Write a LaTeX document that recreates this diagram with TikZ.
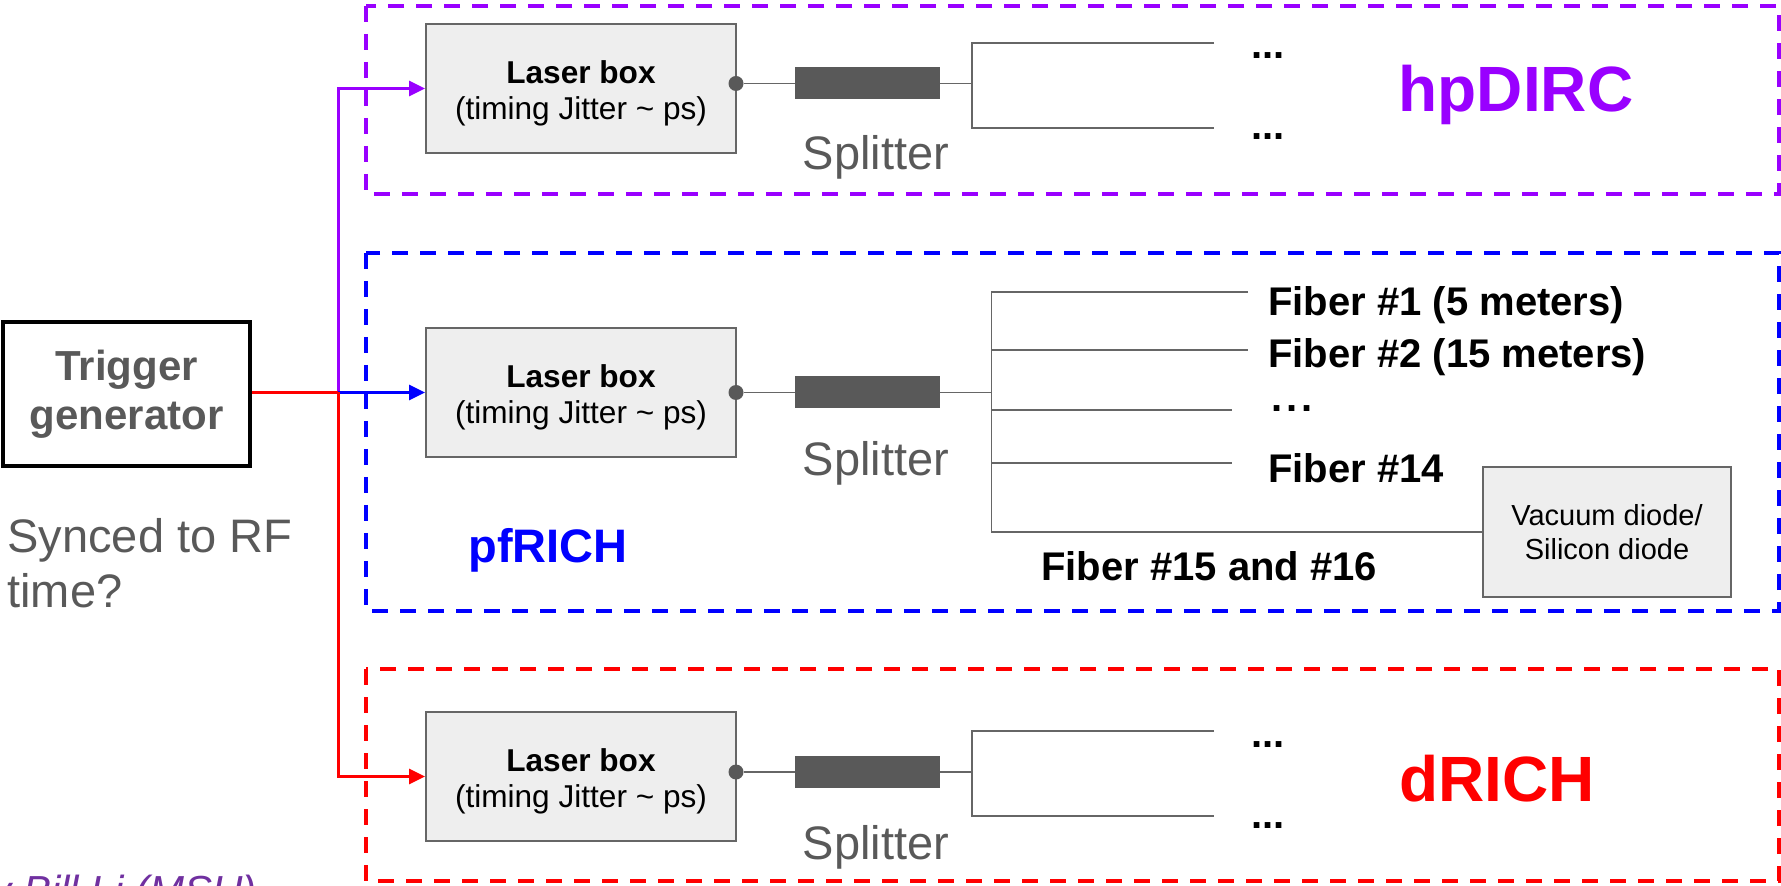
\documentclass[tikz,border=0pt]{standalone}
\usepackage{fontspec}
\setmainfont{Liberation Sans}
\usetikzlibrary{arrows.meta}
\definecolor{vio}{HTML}{9900FF}
\definecolor{blu}{HTML}{0000FF}
\definecolor{rd}{HTML}{FF0000}
\definecolor{dg}{HTML}{595959}
\definecolor{lg}{HTML}{666666}
\definecolor{boxfill}{HTML}{EEEEEE}
\definecolor{credit}{HTML}{7030A0}
\begin{document}
\begin{tikzpicture}[x=0.5pt,y=-0.5pt,
  zone/.style={line width=2pt, dash pattern=on 8pt off 6pt},
  laser/.style={draw=lg, fill=boxfill, line width=1pt, minimum width=155pt, minimum height=64.5pt, inner sep=0pt, align=center, font=\fontsize{15.8}{18}\selectfont},
  sig/.style={line width=1.5pt, -{Triangle[length=8pt,width=7.5pt]}},
  gline/.style={draw=lg, line width=0.9pt},
  dotn/.style={circle, fill=dg, inner sep=0pt, minimum size=7.5pt},
  splitbar/.style={fill=dg, inner sep=0pt, minimum width=72.5pt, minimum height=16pt},
  splitlbl/.style={text=dg, inner sep=0pt, anchor=base, font=\fontsize{23.5}{28}\selectfont},
  fib/.style={inner sep=0pt, anchor=base west, font=\fontsize{20}{24}\selectfont\bfseries},
  trig/.style={draw=black, line width=1.7pt, minimum width=123.5pt, minimum height=72pt, inner sep=0pt, align=center, text=dg, font=\fontsize{21}{24.5}\selectfont\bfseries},
  note/.style={inner sep=0pt, anchor=base west, text=dg, font=\fontsize{23.5}{28}\selectfont},
  diode/.style={draw=lg, fill=boxfill, line width=1pt, minimum width=124pt, minimum height=65pt, inner sep=0pt, align=center, font=\fontsize{14.5}{17}\selectfont},
  det/.style={inner sep=0pt, font=\fontsize{32}{38}\selectfont\bfseries}
]
\useasboundingbox (0,0) rectangle (1781,886);
\clip (0,0) rectangle (1781,886);

% detector zones
\draw[zone, vio] (366,6) rectangle (1779,194);
\draw[zone, blu] (366,253) rectangle (1779,611);
\draw[zone, rd] (366,669) rectangle (1779,881);

% trigger generator
\node[trig] (trig) at (126.5,394) {Trigger\\generator};
\node[note] (sync1) at (7,553) {Synced to RF};
\node[note] (sync2) at (7,608) {time?};

% laser boxes
\node[laser] (L1) at (581,88.5) {\rule{0pt}{15.8pt}\textbf{Laser box}\\(timing Jitter \textasciitilde{} ps)};
\node[laser] (L2) at (581,392.5) {\rule{0pt}{15.8pt}\textbf{Laser box}\\(timing Jitter \textasciitilde{} ps)};
\node[laser] (L3) at (581,776.5) {\rule{0pt}{15.8pt}\textbf{Laser box}\\(timing Jitter \textasciitilde{} ps)};

% trigger distribution
\coordinate (J) at (338,392.5);
\draw[sig, vio] (J) |- (L1.west);
\draw[sig, blu] (J) -- (L2.west);
\draw[sig, rd] (J) |- (L3.west);
\draw[rd, line width=1.5pt] (trig.east |- J) -- (J);

% output dots and splitters
\node[dotn] (c1) at (736,83.5) {};
\node[dotn] (c2) at (736,392.5) {};
\node[dotn] (c3) at (736,772) {};
\node[splitbar] (s1) at (867.5,83.5) {};
\node[splitbar] (s2) at (867.5,392.5) {};
\node[splitbar] (s3) at (867.5,772) {};
\draw[gline] (c1) -- (s1.west);
\draw[gline] (c2) -- (s2.west);
\draw[gline] (c3) -- (s3.west);
\node[splitlbl] (t1) at (876,170) {Splitter};
\node[splitlbl] (t2) at (876,476) {Splitter};
\node[splitlbl] (t3) at (876,859) {Splitter};

% hpDIRC branches
\coordinate (k1) at (972,83.5);
\coordinate (k1a) at (972,43);
\coordinate (k1b) at (972,128);
\coordinate (e1a) at (1214,43);
\coordinate (e1b) at (1214,128);
\draw[gline] (s1.east) -- (k1);
\draw[gline] (e1a) -- (k1a) -- (k1b) -- (e1b);
\node[fib] (d1a) at (1251,59) {...};
\node[fib] (d1b) at (1251,140) {...};
\node[det, text=vio, anchor=base] (hp) at (1516,112) {hpDIRC};

% dRICH branches
\coordinate (k3) at (972,772);
\coordinate (k3a) at (972,731);
\coordinate (k3b) at (972,816);
\coordinate (e3a) at (1214,731);
\coordinate (e3b) at (1214,816);
\draw[gline] (s3.east) -- (k3);
\draw[gline] (e3a) -- (k3a) -- (k3b) -- (e3b);
\node[fib] (d3a) at (1251,747) {...};
\node[fib] (d3b) at (1251,828) {...};
\node[det, text=rd, anchor=base] (dr) at (1497,801) {dRICH};

% pfRICH branches
\node[diode] (vd) at (1607,532) {Vacuum diode/\\Silicon diode};
\coordinate (k2) at (991.5,392.5);
\coordinate (k2a) at (991.5,292);
\coordinate (k2b) at (991.5,350);
\coordinate (k2c) at (991.5,410);
\coordinate (k2d) at (991.5,463);
\coordinate (k2e) at (991.5,532);
\coordinate (m1) at (1248,292);
\coordinate (m2) at (1248,350);
\coordinate (m3) at (1232,410);
\coordinate (m4) at (1232,463);
\draw[gline] (s2.east) -- (k2);
\draw[gline] (m1) -- (k2a) -- (k2e) -- (vd.west);
\draw[gline] (k2b) -- (m2);
\draw[gline] (k2c) -- (m3);
\draw[gline] (k2d) -- (m4);
\node[fib] (f1) at (1268,316) {Fiber \#1 (5 meters)};
\node[fib] (f2) at (1268,368) {Fiber \#2 (15 meters)};
\node[fib] (f3) at (1271,412) {.\kern2pt.\kern2pt.};
\node[fib] (f14) at (1268,483) {Fiber \#14};
\node[fib] (f15) at (1041,581) {Fiber \#15 and \#16};
\node[det, text=blu, anchor=base west, font=\fontsize{23.5}{28}\selectfont\bfseries] (pf) at (468,563) {pfRICH};

% credit
\node[inner sep=0pt, anchor=base west, text=credit, font=\fontsize{21}{25}\selectfont\itshape] (cr) at (-10,905) {y Bill Li (MSU)};
\end{tikzpicture}
\end{document}
